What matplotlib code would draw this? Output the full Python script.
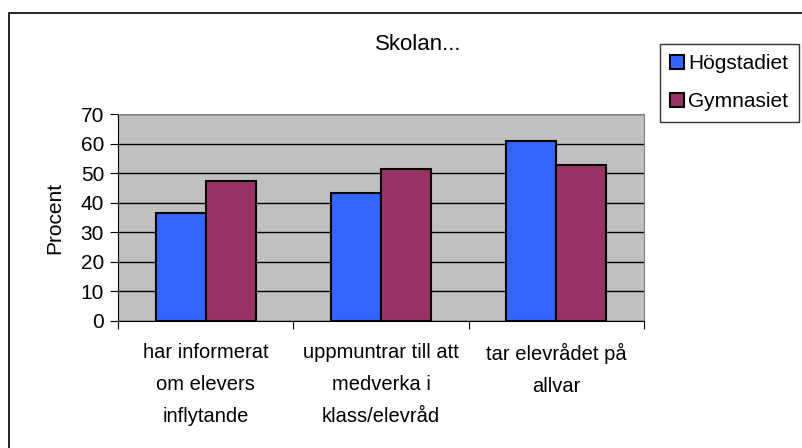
import numpy as np
from matplotlib import pyplot as plt
from matplotlib.patches import Rectangle

categories = ['har informerat\nom elevers\ninflytande',
              'uppmuntrar till att\nmedverka i\nklass/elevråd',
              'tar elevrådet på\nallvar']
hogstadiet = [36.5, 43.3, 61.0]
gymnasiet = [47.5, 51.4, 52.9]
series_names = ['Högstadiet', 'Gymnasiet']
y_ticks = [0, 10, 20, 30, 40, 50, 60, 70]

plt.rcParams['font.family'] = ['Liberation Sans', 'DejaVu Sans']
plt.rcParams['font.size'] = 15

fig = plt.figure(figsize=(8.03, 4.48), dpi=100)
ax = fig.add_axes([118 / 803, 1 - 321 / 448, 526 / 803, 207 / 448])

# outer chart border (cut off at right/bottom)
fig.patches.append(Rectangle((9 / 803, -0.1), 1.0, 1 - 13 / 448 + 0.1, transform=fig.transFigure,
                             fill=False, edgecolor='black', linewidth=1.2))

x = np.arange(len(categories))
w = 1 / 3.5
ax.bar(x - w / 2, hogstadiet, w, color='#3366FF', edgecolor='black', linewidth=1.5,
       label=series_names[0], zorder=3)
ax.bar(x + w / 2, gymnasiet, w, color='#993366', edgecolor='black', linewidth=1.5,
       label=series_names[1], zorder=3)

ax.set_facecolor('#C0C0C0')
ax.set_xlim(-0.5, len(categories) - 0.5)
ax.set_ylim(0, 70)
ax.set_yticks(y_ticks)
ax.yaxis.grid(True, color='black', linewidth=1)
ax.set_axisbelow(True)

ax.set_xticks(np.arange(len(categories) + 1) - 0.5)
ax.set_xticklabels([])
ax.set_xticks(x, categories, minor=True, fontsize=14.5)
ax.tick_params(axis='x', which='minor', length=0, pad=16)
for lbl in ax.get_xticklabels(minor=True):
    lbl.set_linespacing(1.85)
ax.tick_params(axis='x', which='major', length=6, direction='out')
ax.tick_params(axis='y', length=6, direction='out', pad=4)

for side in ['top', 'right']:
    ax.spines[side].set_color('#808080')
ax.spines['left'].set_color('black')
ax.spines['bottom'].set_color('black')

ax.set_ylabel('Procent', labelpad=12)
fig.text(418 / 803, 1 - 45 / 448, 'Skolan...', ha='center', va='center', fontsize=16)

leg = fig.legend(loc='upper left', bbox_to_anchor=(660 / 803, 1 - 44 / 448), frameon=True,
                 fancybox=False, edgecolor='black', handlelength=0.65, handleheight=0.65,
                 handletextpad=0.2, labelspacing=0.9, borderpad=0.5, borderaxespad=0,
                 fontsize=15)
leg.get_frame().set_linewidth(1)

fig.savefig('out.png', dpi=100)
